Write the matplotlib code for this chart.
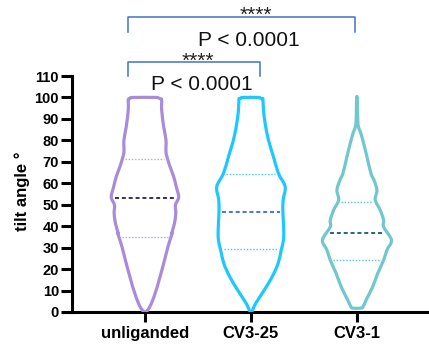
import numpy as np
import matplotlib
matplotlib.use("Agg")
import matplotlib.pyplot as plt
from matplotlib.path import Path
from matplotlib.patches import PathPatch

plt.rcParams['font.family'] = ['Liberation Sans', 'DejaVu Sans']

categories = ["unliganded", "CV3-25", "CV3-1"]

# violin outline profiles: y level (deg) and half-width (px at 106 px/unit)
unl_y = [100.0, 99.4, 98.8, 94.2, 86.4, 80.2, 74.8, 72.4, 67.8, 63.1, 58.4, 53.5, 49.9, 46.0, 41.3, 36.7, 33.5, 0.0]
unl_w = [12.0, 15.5, 16.7, 16.7, 18.7, 21.0, 21.0, 22.0, 25.0, 28.7, 31.3, 33.7, 30.5, 30.8, 29.5, 26.7, 25.0, 0.0]

cv25_y = [100.0, 99.4, 99.1, 94.2, 87.9, 80.2, 72.4, 64.6, 58.4, 52.2, 46.0, 38.2, 33.5, 28.9, 22.7, 16.5, 10.2, 4.0, 0.0]
cv25_w = [8.0, 11.0, 12.0, 12.5, 14.2, 17.5, 22.5, 27.5, 34.2, 32.2, 32.0, 32.8, 32.5, 30.3, 27.2, 21.3, 13.3, 4.7, 0.0]

cv1_y = [99.6, 87.9, 83.2, 78.6, 72.4, 64.6, 61.5, 56.8, 52.2, 47.5, 42.8, 39.7, 33.5, 28.9, 24.2, 18.0, 11.8, 5.6, 2.4, 1.8]
cv1_w = [0.3, 1.0, 4.0, 6.7, 10.0, 14.0, 17.0, 20.0, 18.3, 23.3, 26.7, 26.7, 34.5, 30.0, 26.7, 20.8, 15.8, 9.2, 6.0, 4.0]

medians = [53.0, 46.6, 36.7]
q1 = [35.1, 29.2, 24.4]
q3 = [71.3, 64.4, 51.1]

outline_colors = ["#A88CDA", "#1EC8FF", "#70C8CE"]
median_colors = ["#2E1F52", "#3F66DE", "#1B5868"]
quart_colors = ["#B9A2E4", "#45C8F2", "#5EC3CD"]

profiles = [(unl_y, unl_w), (cv25_y, cv25_w), (cv1_y, cv1_w)]
PX_PER_UNIT = 106.0


def smooth_path(X, Y):
    """Catmull-Rom curve through the outline vertices, drawn as cubic Bezier segments."""
    P = np.column_stack([X, Y])
    n = len(P)
    verts = [P[0]]
    codes = [Path.MOVETO]
    for k in range(n - 1):
        p0 = P[k - 1] if k > 0 else P[k]
        p1 = P[k]
        p2 = P[k + 1]
        p3 = P[k + 2] if k + 2 < n else P[k + 1]
        c1 = p1 + (p2 - p0) / 6.0
        c2 = p2 - (p3 - p1) / 6.0
        verts += [c1, c2, p2]
        codes += [Path.CURVE4] * 3
    return Path(np.array(verts), codes)


fig = plt.figure(figsize=(4.29, 3.45), dpi=100)
ax = fig.add_axes([0.1667, 0.0957, 0.8333, 0.684])

for i, (ys, ws) in enumerate(profiles):
    xc = i + 1
    ys = np.array(ys)
    hw = np.array(ws) / PX_PER_UNIT
    xr = xc + hw
    xl = xc - hw
    # right side top->bottom, then left side bottom->top
    X = np.concatenate([xr, xl[::-1][1:] if hw[-1] == 0 else xl[::-1]])
    Y = np.concatenate([ys, ys[::-1][1:] if hw[-1] == 0 else ys[::-1]])
    X = np.append(X, X[0])
    Y = np.append(Y, Y[0])
    patch = PathPatch(smooth_path(X, Y), facecolor='none', edgecolor=outline_colors[i],
                      lw=2.3, joinstyle='round', capstyle='round', zorder=3)
    ax.add_patch(patch)
    order = np.argsort(ys)

    def half(y):
        return np.interp(y, ys[order], hw[order])
    for yv, col, ls, lw in [(medians[i], median_colors[i], (0, (2.2, 1.6)), 1.3),
                            (q1[i], quart_colors[i], (0, (1.0, 1.3)), 1.0),
                            (q3[i], quart_colors[i], (0, (1.0, 1.3)), 1.0)]:
        h = half(yv) - 0.03
        ax.plot([xc - h, xc + h], [yv, yv], color=col, lw=lw, linestyle=ls, zorder=2)

ax.set_xlim(0.307, 3.68)
ax.set_ylim(0, 110)
ax.set_yticks(np.arange(0, 111, 10))
ax.set_xticks([1, 2, 3])
ax.set_xticklabels(categories, fontsize=12, fontweight='bold')
for lab in ax.get_yticklabels():
    lab.set_fontsize(10.5)
    lab.set_fontweight('bold')
ax.tick_params(axis='y', length=8, width=2.2, pad=1)
ax.tick_params(axis='x', length=7, width=2.2, pad=3)
for s in ['top', 'right']:
    ax.spines[s].set_visible(False)
for s in ['left', 'bottom']:
    ax.spines[s].set_linewidth(2.2)
ax.set_ylabel("tilt angle °", fontsize=12, fontweight='bold')
ax.yaxis.set_label_coords(-0.115, 0.51)

# significance brackets
bcol = "#4472C4"
br = [(0.837, 2.98, 137.5, 130.5, 2.045, 135.6, 1.98, 124.1),
      (0.837, 2.09, 116.5, 110.0, 1.495, 114.4, 1.54, 103.5)]
for x0, x1, yh, yb, sx, sy, px, py in br:
    ax.plot([x0, x0, x1, x1], [yb, yh, yh, yb], color=bcol, lw=1.1, clip_on=False, zorder=4)
    ax.text(sx, sy, "****", ha='center', va='baseline', fontsize=15, color='#222222')
    ax.text(px, py, "P < 0.0001", ha='center', va='baseline', fontsize=15, color='#111111')

fig.savefig("out.png", dpi=100)
